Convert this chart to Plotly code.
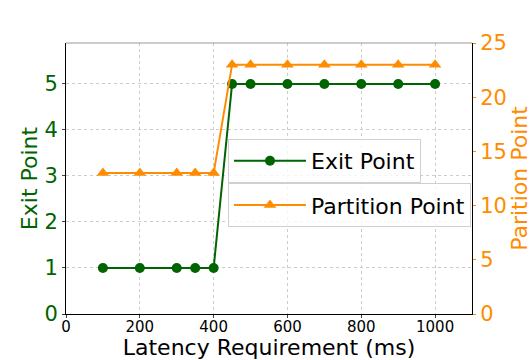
import plotly.graph_objects as go

# latency requirement (ms) and the chosen exit / partition points
latency = [100, 200, 300, 350, 400, 450, 500, 600, 700, 800, 900, 1000]
exit_point = [1, 1, 1, 1, 1, 5, 5, 5, 5, 5, 5, 5]
partition_point = [13, 13, 13, 13, 13, 23, 23, 23, 23, 23, 23, 23]

green = "#006400"
orange = "#FF8C00"
font = "DejaVu Sans"

fig = go.Figure()
fig.add_trace(go.Scatter(x=latency, y=exit_point, mode="lines+markers", name="Exit Point",
                         line=dict(color=green, width=2), marker=dict(symbol="circle", size=10, color=green),
                         legend="legend", showlegend=True))
fig.add_trace(go.Scatter(x=latency, y=partition_point, mode="lines+markers", name="Partition Point",
                         line=dict(color=orange, width=2), marker=dict(symbol="triangle-up", size=11, color=orange),
                         yaxis="y2", legend="legend2", showlegend=True))

fig.update_layout(
    width=532, height=360,
    margin=dict(l=66, r=60, t=43, b=46),
    plot_bgcolor="white", paper_bgcolor="white",
    showlegend=True,
    font=dict(family=font, color="black"),
    xaxis=dict(range=[0, 1100], tickvals=[0, 200, 400, 600, 800, 1000], tickfont=dict(size=15),
               title=dict(text="Latency Requirement (ms)", font=dict(size=22), standoff=0),
               showline=True, linecolor="black", linewidth=1, ticks="outside", ticklen=3,
               ticklabelstandoff=-4,
               showgrid=True, gridcolor="#cccccc", griddash="dot", zeroline=False, automargin=False),
    yaxis=dict(range=[0, 5.89], tickvals=[0, 1, 2, 3, 4, 5], tickfont=dict(size=21, color=green),
               title=dict(text="Exit Point", font=dict(size=22, color=green), standoff=0),
               showline=True, linecolor="black", linewidth=1, ticks="outside", ticklen=3,
               showgrid=True, gridcolor="#cccccc", griddash="dot", zeroline=False, automargin=False),
    yaxis2=dict(range=[0, 25], tickvals=[0, 5, 10, 15, 20, 25], overlaying="y", side="right",
                tickfont=dict(size=21, color=orange),
                title=dict(text="Parition Point", font=dict(size=22, color=orange), standoff=1),
                showline=True, linecolor="black", linewidth=1, ticks="outside", ticklen=3, tickcolor=orange,
                showgrid=False, zeroline=False, automargin=False),
    legend=dict(x=0.399, y=0.646, xanchor="left", yanchor="top", bgcolor="rgba(255,255,255,0.8)",
                bordercolor="#d0d0d0", borderwidth=1, font=dict(size=22), itemwidth=72),
    legend2=dict(x=0.399, y=0.483, xanchor="left", yanchor="top", bgcolor="rgba(255,255,255,0.8)",
                 bordercolor="#d0d0d0", borderwidth=1, font=dict(size=22), itemwidth=72),
    shapes=[dict(type="line", xref="paper", yref="paper", x0=0, x1=1, y0=1, y1=1,
                 line=dict(color="#999999", width=1))],
)

# the page's default body margin would shift the figure by 8px
fig.write_html("out.html", config={"displayModeBar": False},
               post_script="document.body.style.margin='0px';")
